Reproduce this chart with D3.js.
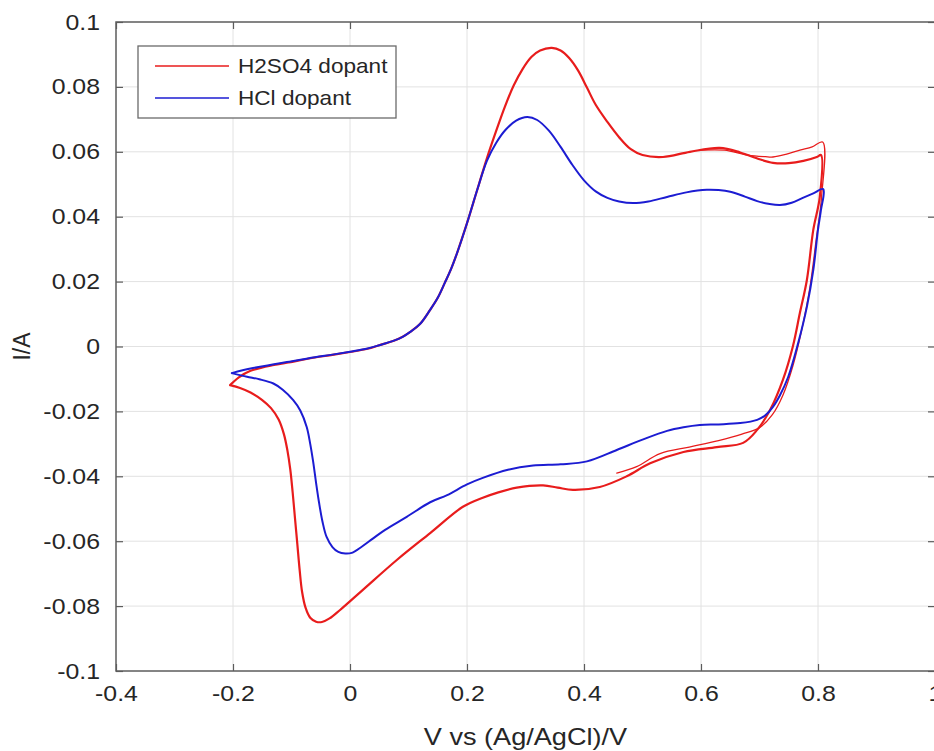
<!DOCTYPE html>
<html>
<head>
<meta charset="utf-8">
<script src="https://cdn.jsdelivr.net/npm/d3@7"></script>
<style>
  html, body { margin: 0; padding: 0; background: #fff; }
  svg { display: block; }
  text { font-family: "Liberation Sans", Arial, Helvetica, sans-serif; fill: #262626; }
</style>
</head>
<body>
<svg id="chart" width="934" height="751"></svg>
<script>
// Cyclic voltammograms, potential in V vs Ag/AgCl, current in A.
const xTicks = [-0.4, -0.2, 0, 0.2, 0.4, 0.6, 0.8, 1];
const yTicks = [-0.1, -0.08, -0.06, -0.04, -0.02, 0, 0.02, 0.04, 0.06, 0.08, 0.1];
const xTickLabels = ["-0.4", "-0.2", "0", "0.2", "0.4", "0.6", "0.8", "1"];
const yTickLabels = ["-0.1", "-0.08", "-0.06", "-0.04", "-0.02", "0", "0.02", "0.04", "0.06", "0.08", "0.1"];
const seriesNames = ["H2SO4 dopant", "HCl dopant"];

// HCl-doped film: one full cycle, anodic sweep then cathodic sweep
const hclCycle = [
  [-0.202, -0.0082], [-0.17, -0.0068], [-0.13, -0.0055], [-0.108, -0.0048],
  [-0.06, -0.0033], [-0.03, -0.0025], [0, -0.0016], [0.03, -0.0006],
  [0.05, 0.0004], [0.075, 0.0018], [0.09, 0.003], [0.103, 0.0045],
  [0.12, 0.007], [0.137, 0.0113], [0.15, 0.015], [0.162, 0.0196],
  [0.173, 0.024], [0.183, 0.0288], [0.2, 0.038], [0.217, 0.048],
  [0.234, 0.0572], [0.25, 0.0628], [0.266, 0.0668], [0.284, 0.0696],
  [0.303, 0.0707], [0.32, 0.0698], [0.34, 0.0665], [0.36, 0.0615],
  [0.38, 0.056], [0.40, 0.0512], [0.42, 0.0478], [0.44, 0.0458],
  [0.46, 0.0447], [0.484, 0.0442], [0.51, 0.0447], [0.542, 0.0461],
  [0.575, 0.0475], [0.61, 0.0483], [0.63, 0.0482], [0.65, 0.0477],
  [0.675, 0.0462], [0.696, 0.0448], [0.715, 0.044], [0.735, 0.0436],
  [0.755, 0.0443], [0.774, 0.0458], [0.792, 0.0472], [0.809, 0.0485],
  [0.805, 0.042], [0.80, 0.036], [0.792, 0.0236], [0.781, 0.0122],
  [0.766, 0.001], [0.749, -0.0094], [0.735, -0.015], [0.723, -0.0186],
  [0.71, -0.0212], [0.696, -0.0226], [0.667, -0.0236], [0.63, -0.024],
  [0.598, -0.0242], [0.57, -0.0249], [0.542, -0.026], [0.5, -0.0287],
  [0.456, -0.0319], [0.405, -0.0354], [0.36, -0.0363], [0.313, -0.0367],
  [0.27, -0.038], [0.227, -0.0405], [0.2, -0.0425], [0.166, -0.0458],
  [0.137, -0.048], [0.097, -0.0525], [0.06, -0.0565], [0.039, -0.0592],
  [0.02, -0.0617], [0.003, -0.0636], [-0.008, -0.0638], [-0.02, -0.0633],
  [-0.03, -0.0618], [-0.04, -0.0587], [-0.047, -0.054], [-0.053, -0.048],
  [-0.058, -0.042], [-0.063, -0.0355], [-0.068, -0.030], [-0.074, -0.0248],
  [-0.085, -0.0197], [-0.097, -0.0165], [-0.115, -0.0133], [-0.131, -0.0114],
  [-0.155, -0.0101], [-0.176, -0.0093], [-0.202, -0.0082]
];

// H2SO4-doped film: full cycle
const h2so4Cycle = [
  [-0.205, -0.0119], [-0.19, -0.0095], [-0.17, -0.0075], [-0.13, -0.0057],
  [-0.108, -0.005], [-0.06, -0.0034], [-0.03, -0.0026], [0, -0.0017],
  [0.03, -0.0007], [0.05, 0.0004], [0.075, 0.0018], [0.09, 0.003],
  [0.103, 0.0045], [0.12, 0.007], [0.137, 0.0113], [0.15, 0.015],
  [0.162, 0.0196], [0.173, 0.024], [0.183, 0.0288], [0.2, 0.038],
  [0.217, 0.048], [0.234, 0.058], [0.25, 0.0665], [0.265, 0.074],
  [0.28, 0.0805], [0.295, 0.0855], [0.31, 0.0892], [0.325, 0.0912],
  [0.345, 0.092], [0.36, 0.0912], [0.375, 0.0888], [0.39, 0.085],
  [0.405, 0.0798], [0.42, 0.0745], [0.44, 0.0692], [0.46, 0.0645],
  [0.48, 0.0608], [0.50, 0.059], [0.535, 0.0584], [0.581, 0.06],
  [0.632, 0.0612], [0.667, 0.0598], [0.7, 0.0577], [0.723, 0.0566],
  [0.75, 0.0565], [0.775, 0.0572], [0.798, 0.0584], [0.805, 0.059],
  [0.803, 0.046], [0.792, 0.036], [0.781, 0.0205], [0.769, 0.0103],
  [0.757, 0], [0.74, -0.0103], [0.718, -0.0196], [0.696, -0.0257],
  [0.672, -0.0297], [0.627, -0.031], [0.57, -0.0325], [0.513, -0.036],
  [0.473, -0.04], [0.427, -0.0433], [0.381, -0.0442], [0.355, -0.0435],
  [0.33, -0.0428], [0.285, -0.0435], [0.251, -0.0451], [0.227, -0.0466],
  [0.193, -0.0494], [0.137, -0.0575], [0.08, -0.0658], [0.022, -0.075],
  [-0.017, -0.0812], [-0.035, -0.0838], [-0.048, -0.0849], [-0.058, -0.0848],
  [-0.068, -0.0836], [-0.076, -0.0805], [-0.082, -0.0755], [-0.086, -0.069],
  [-0.09, -0.061], [-0.094, -0.053], [-0.098, -0.045], [-0.102, -0.038],
  [-0.107, -0.032], [-0.113, -0.027], [-0.122, -0.0225], [-0.135, -0.019],
  [-0.15, -0.0165], [-0.17, -0.0142], [-0.188, -0.0128], [-0.205, -0.0119]
];

// H2SO4-doped film: a later cycle, where it separates from the first near the switching potential
const h2so4Later = [
  [0.60, 0.0605], [0.64, 0.0605], [0.68, 0.059], [0.71, 0.0585],
  [0.723, 0.0584], [0.745, 0.0592], [0.769, 0.0605], [0.79, 0.0615],
  [0.808, 0.063], [0.806, 0.046], [0.797, 0.033], [0.786, 0.018],
  [0.772, 0.005], [0.757, -0.006], [0.74, -0.015], [0.722, -0.021],
  [0.7, -0.025], [0.67, -0.027], [0.63, -0.029], [0.58, -0.031],
  [0.53, -0.033], [0.49, -0.037], [0.456, -0.039]
];

const W = 934, H = 751;
const plot = { left: 116, right: 935, top: 22, bottom: 671 };
const red = "#e81c1c", blue = "#1c1cd2";
const stretch = 1.13;   // horizontal widening applied to every label

const svg = d3.select("#chart");
const x = d3.scaleLinear().domain([-0.4, 1]).range([plot.left, plot.right]);
const y = d3.scaleLinear().domain([-0.1, 0.1]).range([plot.bottom, plot.top]);

svg.append("rect").attr("width", W).attr("height", H).attr("fill", "#fff");

// grid
const grid = svg.append("g").attr("stroke", "#e2e2e2").attr("stroke-width", 1);
grid.selectAll("line.vx").data(xTicks.slice(1, -1)).join("line")
  .attr("x1", d => x(d)).attr("x2", d => x(d))
  .attr("y1", plot.top).attr("y2", plot.bottom);
grid.selectAll("line.hy").data(yTicks.slice(1, -1)).join("line")
  .attr("x1", plot.left).attr("x2", plot.right)
  .attr("y1", d => y(d)).attr("y2", d => y(d));

// curves
const line = d3.line().x(d => x(d[0])).y(d => y(d[1])).curve(d3.curveCatmullRom.alpha(0.5));
const curves = svg.append("g").attr("fill", "none").attr("stroke-linejoin", "round").attr("stroke-linecap", "round");
curves.append("path").datum(h2so4Later).attr("d", line).attr("stroke", red).attr("stroke-width", 1.3);
curves.append("path").datum(h2so4Cycle).attr("d", line).attr("stroke", red).attr("stroke-width", 2.2);
curves.append("path").datum(hclCycle).attr("d", line).attr("stroke", blue).attr("stroke-width", 2);

// widen a text element horizontally about its own anchor point
function widen(sel) {
  sel.each(function () {
    const t = d3.select(this);
    const tx = +(t.attr("x") || 0);
    t.attr("x", tx / stretch).attr("transform", `scale(${stretch},1)`);
  });
}

// axes (ticks inward on all four sides)
const axisColor = "#5c5c5c";
function styleAxis(g) {
  g.select(".domain").remove();
  g.selectAll(".tick line").attr("stroke", axisColor).attr("stroke-width", 1.2);
  g.selectAll(".tick text").attr("fill", "#262626").style("font-size", "22px")
    .style("font-family", '"Liberation Sans", Arial, sans-serif');
}
const xFmt = (d, i) => xTickLabels[i];
const yFmt = (d, i) => yTickLabels[i];

svg.append("g").attr("transform", `translate(0,${plot.bottom})`)
  .call(d3.axisBottom(x).tickValues(xTicks).tickFormat(xFmt).tickSizeInner(-7).tickPadding(14))
  .call(styleAxis)
  .call(g => g.selectAll(".tick text").call(widen));
svg.append("g").attr("transform", `translate(0,${plot.top})`)
  .call(d3.axisTop(x).tickValues(xTicks).tickFormat("").tickSizeInner(-7))
  .call(styleAxis);
svg.append("g").attr("transform", `translate(${plot.left},0)`)
  .call(d3.axisLeft(y).tickValues(yTicks).tickFormat(yFmt).tickSizeInner(-7).tickPadding(16))
  .call(styleAxis)
  .call(g => g.selectAll(".tick text").call(widen));
svg.append("g").attr("transform", `translate(${plot.right},0)`)
  .call(d3.axisRight(y).tickValues(yTicks).tickFormat("").tickSizeInner(-7))
  .call(styleAxis);

svg.append("rect")
  .attr("x", plot.left).attr("y", plot.top)
  .attr("width", plot.right - plot.left).attr("height", plot.bottom - plot.top)
  .attr("fill", "none").attr("stroke", axisColor).attr("stroke-width", 1.5);

// axis titles
svg.append("g").attr("transform", `translate(${(plot.left + plot.right) / 2},745)`)
  .append("text").attr("text-anchor", "middle").style("font-size", "24px")
  .attr("transform", `scale(${stretch},1)`).text("V vs (Ag/AgCl)/V");
svg.append("text").attr("transform", `translate(30,${(plot.top + plot.bottom) / 2}) rotate(-90)`)
  .attr("text-anchor", "middle").style("font-size", "23px").text("I/A");

// legend
const lg = svg.append("g");
lg.append("rect").attr("x", 138).attr("y", 46).attr("width", 258).attr("height", 72)
  .attr("fill", "#fff").attr("stroke", "#6a6a6a").attr("stroke-width", 1.3);
[red, blue].forEach((c, i) => {
  const yy = 66 + i * 32;
  lg.append("line").attr("x1", 155).attr("x2", 229).attr("y1", yy).attr("y2", yy)
    .attr("stroke", c).attr("stroke-width", 1.5);
  lg.append("g").attr("transform", `translate(238,${yy + 7})`)
    .append("text").attr("transform", `scale(${stretch},1)`)
    .style("font-size", "20px").text(seriesNames[i]);
});
</script>
</body>
</html>
